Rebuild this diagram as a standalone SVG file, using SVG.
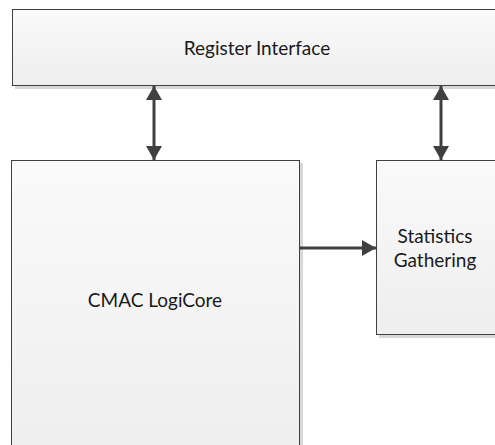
<svg xmlns="http://www.w3.org/2000/svg" width="495" height="445" viewBox="0 0 495 445">
<defs>
<linearGradient id="g" x1="0" y1="0" x2="0" y2="1"><stop offset="0" stop-color="#fafafa"/><stop offset="1" stop-color="#eeeeee"/></linearGradient>
<marker id="a2" viewBox="0 0 14 16" refX="14" refY="8" markerWidth="14" markerHeight="16" markerUnits="userSpaceOnUse" orient="auto-start-reverse"><path d="M0,0 L14,8 L0,16 z" fill="#404040"/></marker>
<style>
.box{fill:url(#g);stroke:#404040;stroke-width:1}
.sh{fill:#d8d8d8}
.t{font-family:Lato,"Open Sans","Liberation Sans",sans-serif;font-size:19px;fill:#1a1a1a;text-anchor:middle}
.c{stroke:#404040;stroke-width:3;fill:none}
</style>
</defs>
<rect width="495" height="445" fill="#fff"/>
<g id="register">
<rect class="sh" x="15" y="85" width="485" height="4"/>
<rect class="box" x="12.5" y="9.5" width="490" height="76"/>
<text class="t" x="257" y="55">Register Interface</text>
</g>
<g id="cmac">
<rect class="sh" x="299" y="163" width="4" height="290"/>
<rect class="box" x="11.5" y="160.5" width="288" height="300"/>
<text class="t" x="155" y="307">CMAC LogiCore</text>
</g>
<g id="stats">
<rect class="sh" x="379" y="334" width="120" height="4"/>
<rect class="box" x="376.5" y="160.5" width="130" height="174"/>
<text class="t" x="435" y="243">Statistics</text>
<text class="t" x="435" y="267">Gathering</text>
</g>
<g id="connectors">
<line class="c" x1="154" y1="86" x2="154" y2="160" marker-start="url(#a2)" marker-end="url(#a2)"/>
<line class="c" x1="441" y1="86" x2="441" y2="160" marker-start="url(#a2)" marker-end="url(#a2)"/>
<line class="c" x1="300" y1="248" x2="376" y2="248" marker-end="url(#a2)"/>
</g>
</svg>
